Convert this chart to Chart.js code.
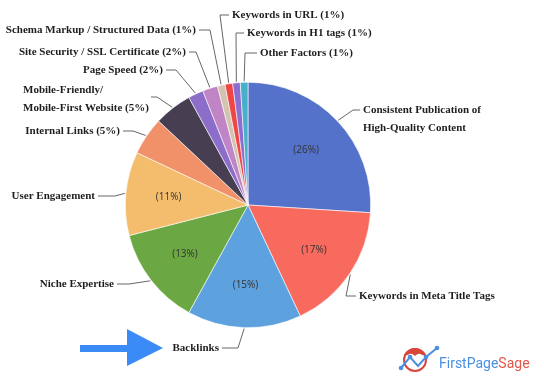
<!DOCTYPE html>
<html>
<head>
<meta charset="utf-8">
<script src="https://cdn.jsdelivr.net/npm/chart.js@4"></script>
<style>
  html, body { margin: 0; padding: 0; background: #fff; }
  #wrap { width: 544px; height: 389px; }
</style>
</head>
<body>
<div id="wrap"><canvas id="pieChart" width="544" height="389"></canvas></div>
<script>
// Ranking factor shares (%), clockwise from 12 o'clock
const factors = [
    'Consistent Publication of High-Quality Content',
    'Keywords in Meta Title Tags',
    'Backlinks',
    'Niche Expertise',
    'User Engagement',
    'Internal Links',
    'Mobile-Friendly/Mobile-First Website',
    'Page Speed',
    'Site Security / SSL Certificate',
    'Schema Markup / Structured Data',
    'Keywords in URL',
    'Keywords in H1 tags',
    'Other Factors'
];
const shares = [26, 17, 15, 13, 11, 5, 5, 2, 2, 1, 1, 1, 1];
const sliceColors = [
    '#5572cb', '#f96a5e', '#5ea1df', '#6ba843', '#f4bd6e', '#f0916a',
    '#483e52', '#8c6eca', '#c085c4', '#d3c4b1', '#ee4545', '#8e6cd0', '#47afc9'
];

// where the outside labels sit and how the leader lines bend
const labelLayout = [
    { lines: ['Consistent Publication of', 'High-Quality Content'], x: 363, y: 110, align: 'left', elbow: 353, end: 360, lineY: 110 },
    { lines: ['Keywords in Meta Title Tags'], x: 359, y: 296, align: 'left', elbow: 346, end: 356, lineY: 296 },
    { lines: ['Backlinks'], x: 219, y: 348, align: 'right', elbow: 238, end: 222, lineY: 348 },
    { lines: ['Niche Expertise'], x: 114, y: 284, align: 'right', elbow: 129, end: 117, lineY: 284 },
    { lines: ['User Engagement'], x: 95, y: 196, align: 'right', elbow: 115, end: 98, lineY: 196 },
    { lines: ['Internal Links (5%)'], x: 120, y: 131, align: 'right', elbow: 133, end: 123, lineY: 131 },
    { lines: ['Mobile-Friendly/', 'Mobile-First Website (5%)'], x: 23, y: 90, align: 'left', elbow: 157, end: 151, lineY: 97 },
    { lines: ['Page Speed (2%)'], x: 163, y: 70, align: 'right', elbow: 176, end: 166, lineY: 70 },
    { lines: ['Site Security / SSL Certificate (2%)'], x: 186, y: 52, align: 'right', elbow: 196, end: 189, lineY: 52 },
    { lines: ['Schema Markup / Structured Data (1%)'], x: 196, y: 30, align: 'right', elbow: 210, end: 199, lineY: 30 },
    { lines: ['Keywords in URL (1%)'], x: 232, y: 15, align: 'left', elbow: 220, end: 229, lineY: 15 },
    { lines: ['Keywords in H1 tags (1%)'], x: 247, y: 33, align: 'left', elbow: 236, end: 244, lineY: 33 },
    { lines: ['Other Factors (1%)'], x: 260, y: 53, align: 'left', elbow: 245, end: 257, lineY: 53 }
];

const labelFont = 'bold 11px "Liberation Serif", serif';
const pctFont = '10px "Open Sans", sans-serif';

function drawLogo(ctx) {
    // red ring with filled cap
    ctx.strokeStyle = '#d9473b';
    ctx.lineWidth = 2;
    ctx.beginPath();
    ctx.arc(415, 360, 11, 0, Math.PI * 2);
    ctx.stroke();
    ctx.fillStyle = '#d9473b';
    ctx.beginPath();
    ctx.arc(415, 360, 12, Math.PI * 1.12, Math.PI * 1.88);
    ctx.lineTo(422, 355);
    ctx.quadraticCurveTo(419, 352, 415, 356);
    ctx.quadraticCurveTo(411, 352, 408, 355);
    ctx.closePath();
    ctx.fill();

    // blue trend line
    const pts = [[401, 368], [410, 357], [418, 366], [426, 357], [437, 348]];
    ctx.strokeStyle = '#4a8fe0';
    ctx.lineWidth = 2;
    ctx.beginPath();
    pts.forEach((p, k) => k ? ctx.lineTo(p[0], p[1]) : ctx.moveTo(p[0], p[1]));
    ctx.stroke();
    ctx.fillStyle = '#4a8fe0';
    [pts[0], pts[1], pts[3], pts[4]].forEach(p => {
        ctx.beginPath(); ctx.arc(p[0], p[1], 2.3, 0, Math.PI * 2); ctx.fill();
    });

    ctx.font = '14px Roboto, sans-serif';
    ctx.textAlign = 'left';
    ctx.textBaseline = 'alphabetic';
    ctx.fillStyle = '#4a8fe0';
    ctx.fillText('FirstPage', 439, 368);
    const w = ctx.measureText('FirstPage').width;
    ctx.fillStyle = '#e0584a';
    ctx.fillText('Sage', 439 + w, 368);
}

// Labels, leader lines, percentages, arrow and logo
const outsideLabels = {
    id: 'outsideLabels',
    afterDraw(chart) {
        const ctx = chart.ctx;
        const arcs = chart.getDatasetMeta(0).data;
        ctx.save();

        arcs.forEach((arc, i) => {
            const mid = (arc.startAngle + arc.endAngle) / 2;
            const lay = labelLayout[i];

            // leader line
            const sx = arc.x + Math.cos(mid) * (arc.outerRadius + 1);
            const sy = arc.y + Math.sin(mid) * (arc.outerRadius + 1);
            ctx.strokeStyle = '#666';
            ctx.lineWidth = 1;
            ctx.beginPath();
            ctx.moveTo(sx, sy);
            ctx.lineTo(lay.elbow, lay.lineY);
            ctx.lineTo(lay.end, lay.lineY);
            ctx.stroke();

            // label text
            ctx.fillStyle = '#1e1e1e';
            ctx.font = labelFont;
            ctx.textAlign = lay.align;
            ctx.textBaseline = 'middle';
            lay.lines.forEach((t, k) => ctx.fillText(t, lay.x, lay.y + k * 18));

            // percentage inside big slices
            if (shares[i] >= 10) {
                const r = arc.outerRadius * 0.65;
                ctx.font = pctFont;
                ctx.fillStyle = '#333';
                ctx.textAlign = 'center';
                ctx.fillText('(' + shares[i] + '%)', arc.x + Math.cos(mid) * r, arc.y + Math.sin(mid) * r);
            }
        });

        // blue arrow pointing at Backlinks
        ctx.fillStyle = '#3b8bf7';
        ctx.fillRect(80, 345, 48, 7);
        ctx.beginPath();
        ctx.moveTo(127, 329);
        ctx.lineTo(163, 348);
        ctx.lineTo(127, 366);
        ctx.closePath();
        ctx.fill();

        drawLogo(ctx);
        ctx.restore();
    }
};

new Chart(document.getElementById('pieChart'), {
    type: 'pie',
    data: {
        labels: factors,
        datasets: [{
            data: shares,
            backgroundColor: sliceColors,
            borderColor: '#ffffff',
            borderWidth: 0.6
        }]
    },
    options: {
        responsive: false,
        animation: false,
        layout: {
            padding: { top: 82, bottom: 61, left: 125, right: 173 }
        },
        plugins: {
            legend: { display: false },
            tooltip: { enabled: false }
        }
    },
    plugins: [outsideLabels]
});
</script>
</body>
</html>
